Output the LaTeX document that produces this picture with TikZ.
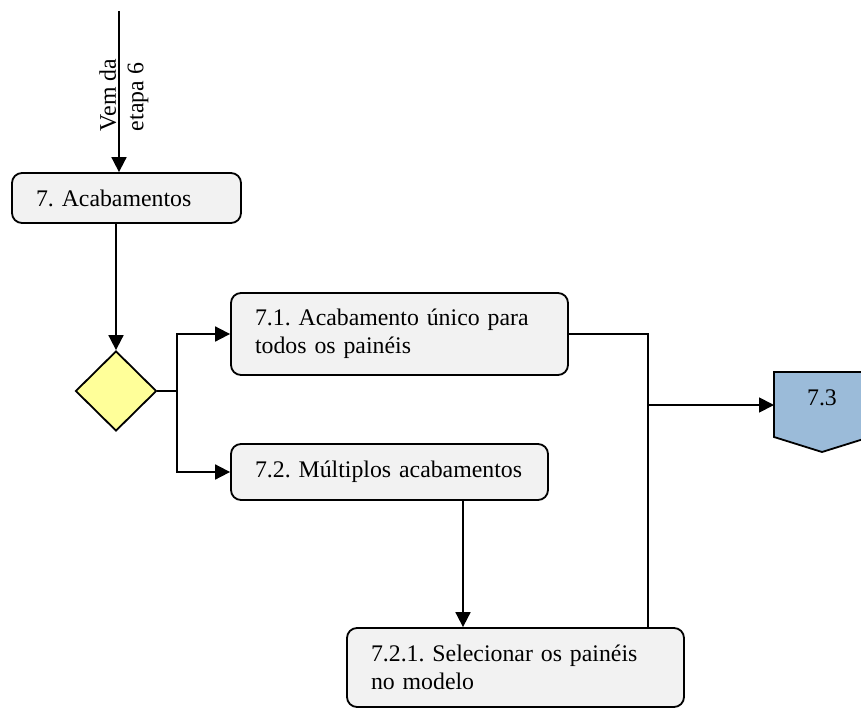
\documentclass[tikz,border=0pt]{standalone}
\usepackage{fontspec}
\setmainfont{Liberation Serif}
\usetikzlibrary{arrows.meta,shapes.geometric}
\definecolor{boxgray}{RGB}{242,242,242}
\definecolor{dyellow}{RGB}{255,255,153}
\definecolor{pblue}{RGB}{155,187,217}
\tikzset{
  conn/.style={line width=1.8pt},
  arr/.style={conn,-{Triangle[length=15pt,width=15pt]}},
  stepbox/.style={draw,line width=1.8pt,fill=boxgray,rounded corners=10pt,
    inner xsep=24pt,inner ysep=0pt,align=left,
    font=\fontsize{23.8}{27.5}\selectfont\frenchspacing},
  decide/.style={draw,line width=1.8pt,fill=dyellow,diamond,inner sep=0pt,
    minimum width=81pt,minimum height=80pt},
  lbl/.style={font=\fontsize{23.8}{27.5}\selectfont\frenchspacing,inner sep=0pt}
}
\begin{document}
\begin{tikzpicture}[x=1pt,y=-1pt]
\useasboundingbox (0,0) rectangle (861,709);
% boxes
\node[stepbox,text width=181pt,minimum height=50pt] (b7) at (126.5,198) {7. Acabamentos};
\node[decide] (dia) at (116,391) {};
\node[stepbox,text width=289pt,minimum height=82pt] (b71) at (399.5,334) {7.1. Acabamento único para\\todos os painéis};
\node[stepbox,text width=269pt,minimum height=56pt] (b72) at (389.5,472) {7.2. Múltiplos acabamentos};
\node[stepbox,text width=289pt,minimum height=79pt] (b721) at (515.5,667.5) {7.2.1. Selecionar os painéis\\no modelo};
% pentagon 7.3
\draw[line width=1.8pt,fill=pblue] (774,372) -- (870,372) -- (870,437) -- (822,452) -- (774,437) -- cycle;
\node[lbl] (p73) at (822,398) {7.3};
\coordinate (p73w) at (774,405);
% incoming
\coordinate (top) at (119,11);
\draw[arr] (top) -- (top |- b7.north);
\node[lbl,rotate=90,align=left] (vem) at (124,95) {Vem da\\etapa 6};
% connectors
\draw[arr] (dia.north |- b7.south) -- (dia.north);
\coordinate (br) at (177,391);
\draw[conn] (dia.east) -- (br);
\draw[arr] (br) |- (b71.west);
\draw[arr] (br) |- (b72.west);
\coordinate (dn) at (463,0);
\draw[arr] (dn |- b72.south) -- (dn |- b721.north);
\coordinate (j1) at (648,334);
\coordinate (j2) at (648,405);
\draw[conn] (b71.east) -- (j1) -- (j1 |- b721.north);
\draw[arr] (j2) -- (p73w);
\end{tikzpicture}
\end{document}
